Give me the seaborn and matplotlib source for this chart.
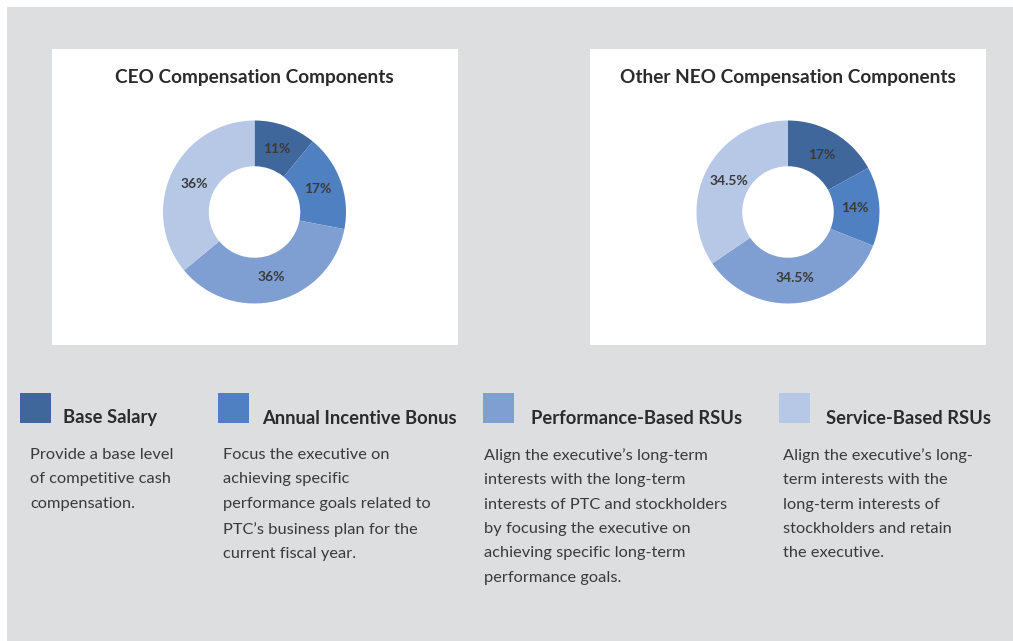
import matplotlib
matplotlib.use("Agg")
import matplotlib.pyplot as plt
from matplotlib.patches import Rectangle
import seaborn as sns

# chart data
components = ["Base Salary", "Annual Incentive Bonus",
              "Performance-Based RSUs", "Service-Based RSUs"]
ceo_share = [11, 17, 36, 36]
neo_share = [17, 14, 34.5, 34.5]
chart_titles = ["CEO Compensation Components", "Other NEO Compensation Components"]
descriptions = [
    "Provide a base level\nof competitive cash\ncompensation.",
    "Focus the executive on\nachieving specific\nperformance goals related to\nPTC\u2019s business plan for the\ncurrent fiscal year.",
    "Align the executive\u2019s long-term\ninterests with the long-term\ninterests of PTC and stockholders\nby focusing the executive on\nachieving specific long-term\nperformance goals.",
    "Align the executive\u2019s long-\nterm interests with the\nlong-term interests of\nstockholders and retain\nthe executive.",
]

sns.set_theme(style="white")
plt.rcParams["font.family"] = ["Lato", "DejaVu Sans"]

colors = sns.color_palette(["#40679b", "#4f81c2", "#7f9fd2", "#b7c8e6"])
W, H = 1013, 641
fig = plt.figure(figsize=(W / 100, H / 100), dpi=100, facecolor="white")


def px_rect(x0, y0, x1, y1, color):
    fig.patches.append(Rectangle((x0 / W, 1 - y1 / H), (x1 - x0) / W, (y1 - y0) / H,
                                 transform=fig.transFigure, facecolor=color,
                                 edgecolor="none", zorder=-1))


def fmt_pct(p):
    s = f"{p:.1f}".rstrip("0").rstrip(".")
    return s + "%"


# background and white chart panels
px_rect(7, 7, W, H, "#dddee0")
px_rect(52, 49, 458, 345, "white")
px_rect(590, 49, 986, 345, "white")

# donuts
for cx, title, values in [(254.5, chart_titles[0], ceo_share),
                          (788, chart_titles[1], neo_share)]:
    r = 91.5
    ax = fig.add_axes([(cx - r) / W, 1 - (212 + r) / H, 2 * r / W, 2 * r / H])
    ax.set_zorder(2)
    wedges, texts, autotexts = ax.pie(
        values, colors=colors, startangle=90, counterclock=False,
        radius=1.0, autopct=fmt_pct, pctdistance=0.73,
        wedgeprops=dict(width=0.5, edgecolor="none"),
        textprops=dict(fontsize=10, fontweight="bold", color="#3a3a3a"))
    ax.set_xlim(-1, 1)
    ax.set_ylim(-1, 1)
    ax.set_axis_off()
    fig.text(cx / W, 1 - 77 / H, title, ha="center", va="center",
             fontsize=13.7, fontweight="bold", color="#2b2b2b")

# legend squares, names and descriptions
sq_x = [20, 218, 483, 779]
lab_x = [63, 262, 531, 826]
desc_x = [30, 223, 484, 783]
for i, name in enumerate(components):
    px_rect(sq_x[i], 393, sq_x[i] + 31, 423, colors[i])
    fig.text(lab_x[i] / W, 1 - 418 / H, name, ha="left", va="center",
             fontsize=13.2, fontweight="bold", color="#2b2b2b")
    fig.text(desc_x[i] / W, 1 - 448 / H, descriptions[i], ha="left", va="top",
             fontsize=11.8, color="#3a3a3a", linespacing=1.94)

fig.savefig("out.png", dpi=100, facecolor=fig.get_facecolor())
